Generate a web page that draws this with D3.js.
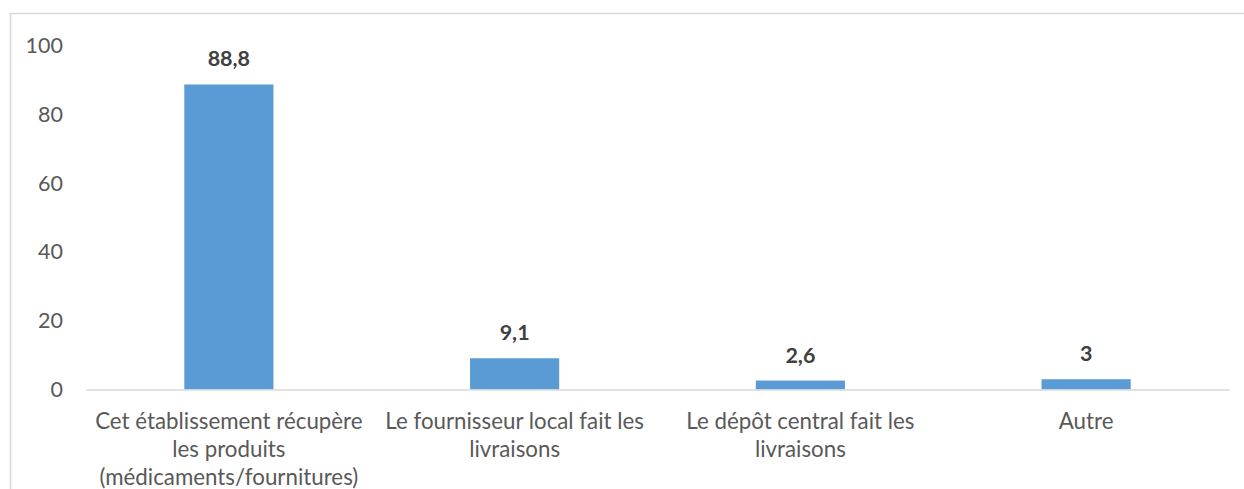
<!DOCTYPE html>
<html><head><meta charset="utf-8">
<script src="https://cdn.jsdelivr.net/npm/d3@7"></script>
<style>body{margin:0;background:#fff}svg{display:block}</style>
</head><body>
<svg id="c" width="1244" height="489"></svg>
<script>
const categories = [
  "Cet établissement récupère\nles produits\n(médicaments/fournitures)",
  "Le fournisseur local fait les\nlivraisons",
  "Le dépôt central fait les\nlivraisons",
  "Autre"
];
const values = [88.8, 9.1, 2.6, 3];
const valueLabels = ["88,8", "9,1", "2,6", "3"];
const yTicks = [0, 20, 40, 60, 80, 100];

const svg = d3.select("#c");
const font = "Lato, 'Open Sans', sans-serif";

svg.append("rect").attr("x", 10.5).attr("y", 13.5).attr("width", 1260).attr("height", 520)
  .attr("fill", "none").attr("stroke", "#d9d9d9").attr("stroke-width", 1.5);

const x = d3.scaleBand().domain(categories).range([86, 1229]).paddingInner(0.688).paddingOuter(0.344);
const y = d3.scaleLinear().domain([0, 100]).range([389.5, 46]);

// y axis labels
const yAxis = d3.axisLeft(y).tickValues(yTicks).tickSize(0).tickPadding(0).tickFormat(d3.format("d"));
const gy = svg.append("g").attr("transform", "translate(63,0)").call(yAxis);
gy.select(".domain").remove();
gy.selectAll("text").attr("font-family", font).attr("font-size", 21.5).attr("fill", "#595959");

// bars
svg.selectAll("rect.bar").data(values).join("rect").attr("class", "bar")
  .attr("x", (d, i) => x(categories[i])).attr("width", x.bandwidth())
  .attr("y", d => y(d)).attr("height", d => y(0) - y(d)).attr("fill", "#5b9bd5");

// x axis
const xAxis = d3.axisBottom(x).tickSize(0).tickFormat("");
const gx = svg.append("g").attr("transform", `translate(0,${y(0)})`).call(xAxis);
gx.select(".domain").attr("stroke", "#d9d9d9").attr("stroke-width", 1.5);

svg.selectAll("text.cat").data(categories).join("text").attr("class", "cat")
  .attr("x", d => x(d) + x.bandwidth() / 2).attr("y", y(0) + 39.5)
  .attr("text-anchor", "middle").attr("font-family", font).attr("font-size", 22.3).attr("fill", "#595959")
  .each(function(d) {
    const t = d3.select(this);
    d.split("\n").forEach((line, k) => {
      t.append("tspan").attr("x", x(d) + x.bandwidth() / 2).attr("dy", k === 0 ? 0 : 28).text(line);
    });
  });

// value labels
svg.selectAll("text.val").data(values).join("text").attr("class", "val")
  .attr("x", (d, i) => x(categories[i]) + x.bandwidth() / 2).attr("y", d => y(d) - 18)
  .attr("text-anchor", "middle").attr("font-family", font).attr("font-size", 21.5).attr("font-weight", "bold")
  .attr("fill", "#404040").text((d, i) => valueLabels[i]);
</script>
</body></html>
